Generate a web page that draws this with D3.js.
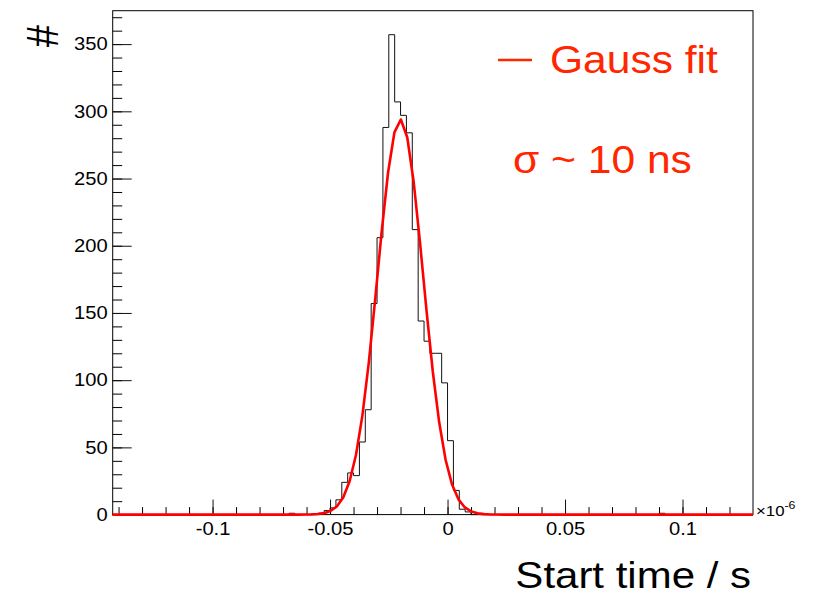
<!DOCTYPE html>
<html>
<head>
<meta charset="utf-8">
<script src="https://cdn.jsdelivr.net/npm/d3@7"></script>
<style>
  body { margin: 0; background: #fff; }
  text { font-family: "Liberation Sans", Arial, Helvetica, sans-serif; }
</style>
</head>
<body>
<div id="chart"></div>
<script>
// histogram bins (lower edge in units of 1e-6 s) and their counts; all other bins are empty
const binWidth = 0.0025;
const binLeft = [-0.0675, -0.055, -0.0525, -0.05, -0.0475, -0.045, -0.0425, -0.04, -0.0375, -0.035,
    -0.0325, -0.03, -0.0275, -0.025, -0.0225, -0.02, -0.0175, -0.015, -0.0125, -0.01,
    -0.0075, -0.005, -0.0025, 0, 0.0025, 0.005, 0.0075, 0.09];
const binCount = [1, 1, 3, 5, 11, 24, 31, 29, 54, 78,
    157, 206, 288, 357, 307, 297, 284, 212, 144, 129,
    120, 120, 98, 55, 18, 4, 2, 1];

// gauss fit parameters
const fitAmp = 294;
const fitMean = -0.0201;
const fitSigma = 0.0097;

const xRange = [-0.1425, 0.13];
const yMax = 374.85;
const xTicks = [-0.1, -0.05, 0, 0.05, 0.1];
const yTicks = [0, 50, 100, 150, 200, 250, 300, 350];

const margin = { top: 10.7, left: 112.7 };
const width = 640.3, height = 503.9;
const sx = 1.12; // text in the reference is a bit wider than tall
const red = "#ff2600";

const svg = d3.select("#chart").append("svg")
    .attr("width", 824)
    .attr("height", 597);

const g = svg.append("g")
    .attr("transform", `translate(${margin.left}, ${margin.top})`);

const x = d3.scaleLinear().domain(xRange).range([0, width]);
const y = d3.scaleLinear().domain([0, yMax]).range([height, 0]);

// frame
g.append("rect")
    .attr("width", width)
    .attr("height", height)
    .attr("fill", "none")
    .attr("stroke", "#000")
    .attr("stroke-width", 1);

// minor ticks
g.append("g")
    .attr("transform", `translate(0, ${height})`)
    .call(d3.axisBottom(x).tickValues(d3.range(-14, 13).map(i => i / 100)).tickSizeInner(-7.5).tickSizeOuter(0).tickFormat(""))
    .call(a => a.select(".domain").remove());
g.append("g")
    .call(d3.axisLeft(y).tickValues(d3.range(0, 371, 10)).tickSizeInner(-9.5).tickSizeOuter(0).tickFormat(""))
    .call(a => a.select(".domain").remove());

// major ticks + labels
const xAxis = g.append("g")
    .attr("transform", `translate(0, ${height})`)
    .call(d3.axisBottom(x).tickValues(xTicks).tickSizeInner(-15).tickSizeOuter(0).tickPadding(8).tickFormat(d => String(d)))
    .call(a => a.select(".domain").remove());
const yAxis = g.append("g")
    .call(d3.axisLeft(y).tickValues(yTicks).tickSizeInner(-19).tickSizeOuter(0).tickPadding(4.5).tickFormat(d => String(d)))
    .call(a => a.select(".domain").remove());

[xAxis, yAxis].forEach(a => {
    a.selectAll("text")
        .attr("transform", `scale(${sx},1)`)
        .style("font-size", "18px")
        .attr("fill", "#000");
    a.selectAll("line").attr("stroke", "#111");
});

// histogram outline
const countByBin = new Map(binLeft.map((b, i) => [Math.round(b / binWidth), binCount[i]]));
const kMin = Math.round(xRange[0] / binWidth), kMax = Math.round(xRange[1] / binWidth);
const histPts = d3.range(kMin, kMax).map(k => [k * binWidth, countByBin.get(k) || 0]);
histPts.push([xRange[1], 0]);

g.append("path")
    .datum(histPts)
    .attr("fill", "none")
    .attr("stroke", "#111")
    .attr("stroke-width", 1)
    .attr("d", d3.line().x(d => x(d[0])).y(d => y(d[1])).curve(d3.curveStepAfter));

// gauss fit curve (100 segments, like ROOT)
const npx = 100;
const fitPts = d3.range(npx + 1).map(i => {
    const t = xRange[0] + i * (xRange[1] - xRange[0]) / npx;
    return [t, fitAmp * Math.exp(-0.5 * Math.pow((t - fitMean) / fitSigma, 2))];
});
g.append("path")
    .datum(fitPts)
    .attr("fill", "none")
    .attr("stroke", "#ff0000")
    .attr("stroke-width", 2.6)
    .attr("stroke-linejoin", "round")
    .attr("d", d3.line().x(d => x(d[0])).y(d => y(d[1])));

// text helper with horizontal stretch
function addText(px, py, str, size, color, anchor) {
    return svg.append("text")
        .attr("transform", `translate(${px}, ${py}) scale(${sx},1)`)
        .attr("text-anchor", anchor || "start")
        .style("font-size", size + "px")
        .attr("fill", color || "#000")
        .text(str);
}

// exponent label
const expo = addText(756, 516, "×10", 15);
expo.append("tspan").attr("dy", -7).style("font-size", "11px").text("-6");

// axis titles
addText(751, 588, "Start time / s", 37.5, "#000", "end");
svg.append("text")
    .attr("transform", `translate(58, 36) scale(${sx},1) rotate(-90)`)
    .attr("text-anchor", "middle")
    .style("font-size", "40px")
    .text("#");

// legend
svg.append("line")
    .attr("x1", 498).attr("x2", 532)
    .attr("y1", 60).attr("y2", 60)
    .attr("stroke", red)
    .attr("stroke-width", 2.5);
addText(550, 72.7, "Gauss fit", 38, red);
addText(513, 173.3, "σ ~ 10 ns", 38, red);
</script>
</body>
</html>
